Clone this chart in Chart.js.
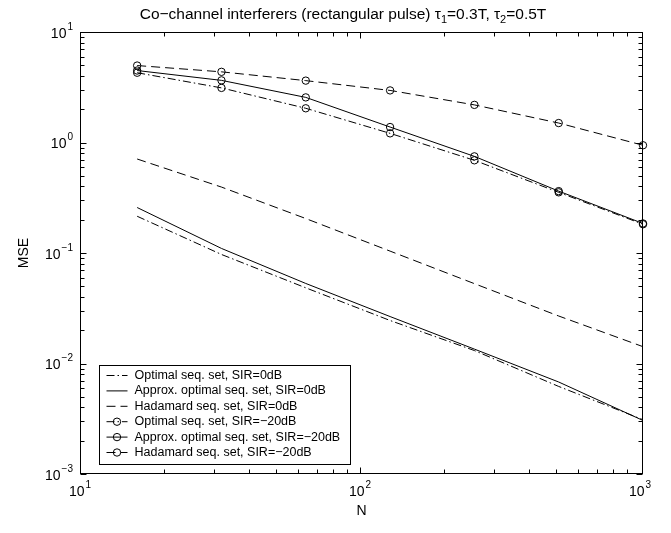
<!DOCTYPE html>
<html>
<head>
<meta charset="utf-8">
<script src="https://cdn.jsdelivr.net/npm/chart.js@4.4.0/dist/chart.umd.min.js"></script>
<style>
    html, body { margin: 0; padding: 0; background: #fff; }
    #wrap { width: 671px; height: 533px; }
</style>
</head>
<body>
<div id="wrap"><canvas id="mseChart" width="671" height="533"></canvas></div>
<script>
// N values (x axis)
const nValues = [16, 32, 64, 128, 256, 512, 1024];

// MSE, SIR = 0dB
const optimal0dB  = [0.215, 0.097, 0.0484, 0.0245, 0.0131, 0.0062, 0.0031];
const approx0dB   = [0.258, 0.110, 0.053, 0.0266, 0.0135, 0.0068, 0.00305];
const hadamard0dB = [0.709, 0.395, 0.205, 0.104, 0.0528, 0.0269, 0.0142];

// MSE, SIR = -20dB
const optimal20dB  = [4.28, 3.12, 2.04, 1.21, 0.690, 0.354, 0.182];
const approx20dB   = [4.48, 3.65, 2.56, 1.38, 0.749, 0.363, 0.185];
const hadamard20dB = [4.97, 4.36, 3.63, 2.96, 2.19, 1.50, 0.944];

// tick labels (base 10, exponent)
const xTickValues = [10, 100, 1000];
const xTickExps = ['1', '2', '3'];
const yTickValues = [10, 1, 0.1, 0.01, 0.001];
const yTickExps = ['1', '0', '\u22121', '\u22122', '\u22123'];

const FONT = '"Liberation Sans", Arial, Helvetica, sans-serif';
const DASH = [9, 5];
const DASHDOT = [8, 3, 1.5, 3];

function toPoints(vals) {
    return nValues.map((n, i) => ({x: n, y: vals[i]}));
}

function makeSet(label, vals, dash, marker) {
    return {
        label: label,
        data: toPoints(vals),
        borderColor: '#000',
        borderWidth: 1,
        borderDash: dash,
        pointRadius: marker ? 3.7 : 0,
        pointStyle: 'circle',
        pointBorderColor: '#000',
        pointBackgroundColor: 'rgba(0,0,0,0)',
        pointBorderWidth: 1,
        tension: 0,
        fill: false,
        clip: false
    };
}

// 10 + 上標
function drawPower(ctx, exp, x, y, align) {
    ctx.font = '14px ' + FONT;
    const wb = ctx.measureText('10').width;
    ctx.font = '10px ' + FONT;
    const ws = ctx.measureText(exp).width;
    const total = wb + ws + 1;
    let sx = align === 'right' ? x - total : x - total / 2;
    ctx.textAlign = 'left';
    ctx.textBaseline = 'middle';
    ctx.font = '14px ' + FONT;
    ctx.fillText('10', sx, y);
    ctx.font = '10px ' + FONT;
    ctx.fillText(exp, sx + wb + 1, y - 7);
}

// MATLAB 風格框線、刻度、文字與圖例
const matlabFrame = {
    id: 'matlabFrame',
    afterDraw(chart) {
        const ctx = chart.ctx;
        const a = chart.chartArea;
        const xs = chart.scales.x;
        const ys = chart.scales.y;
        const L = Math.round(a.left) + 0.5, R = Math.round(a.right) - 0.5;
        const T = Math.round(a.top) + 0.5, B = Math.round(a.bottom) - 0.5;
        ctx.save();
        ctx.strokeStyle = '#000';
        ctx.fillStyle = '#000';
        ctx.lineWidth = 1;
        ctx.setLineDash([]);
        ctx.strokeRect(L, T, R - L, B - T);

        // ticks (inside)
        ctx.beginPath();
        for (let d = 10; d < 1000; d *= 10) {
            for (let k = 1; k < 10; k++) {
                const px = Math.round(xs.getPixelForValue(k * d)) + 0.5;
                const len = k === 1 ? 6 : 4;
                ctx.moveTo(px, B); ctx.lineTo(px, B - len);
                ctx.moveTo(px, T); ctx.lineTo(px, T + len);
            }
        }
        for (let d = 0.001; d < 9; d *= 10) {
            for (let k = 1; k < 10; k++) {
                const py = Math.round(ys.getPixelForValue(k * d)) + 0.5;
                const len = k === 1 ? 6 : 4;
                ctx.moveTo(L, py); ctx.lineTo(L + len, py);
                ctx.moveTo(R, py); ctx.lineTo(R - len, py);
            }
        }
        ctx.stroke();

        // tick labels
        xTickValues.forEach((v, i) => {
            drawPower(ctx, xTickExps[i], xs.getPixelForValue(v), a.bottom + 18, 'center');
        });
        yTickValues.forEach((v, i) => {
            drawPower(ctx, yTickExps[i], a.left - 7, ys.getPixelForValue(v) + 2, 'right');
        });

        // axis titles
        ctx.font = '14px ' + FONT;
        ctx.textAlign = 'center';
        ctx.textBaseline = 'middle';
        ctx.fillText('N', (a.left + a.right) / 2, a.bottom + 37);
        ctx.save();
        ctx.translate(24, (a.top + a.bottom) / 2);
        ctx.rotate(-Math.PI / 2);
        ctx.fillText('MSE', 0, 0);
        ctx.restore();

        // title with subscripts
        const parts = [
            ['Co\u2212channel interferers (rectangular pulse) \u03c4', 0],
            ['1', 1],
            ['=0.3T, \u03c4', 0],
            ['2', 1],
            ['=0.5T', 0]
        ];
        let tw = 0;
        parts.forEach(p => {
            ctx.font = (p[1] ? '11px ' : '15.5px ') + FONT;
            tw += ctx.measureText(p[0]).width;
        });
        let tx = 343 - tw / 2;
        ctx.textAlign = 'left';
        parts.forEach(p => {
            ctx.font = (p[1] ? '11px ' : '15.5px ') + FONT;
            ctx.fillText(p[0], tx, p[1] ? 20 : 15);
            tx += ctx.measureText(p[0]).width;
        });

        // legend
        const lx = 99.5, ly = 365.5, lw = 251, lh = 99;
        ctx.fillStyle = '#fff';
        ctx.fillRect(lx, ly, lw, lh);
        ctx.strokeRect(lx, ly, lw, lh);
        ctx.font = '12.5px ' + FONT;
        chart.data.datasets.forEach((ds, i) => {
            const cy = ly + 10 + i * 15.4;
            ctx.strokeStyle = '#000';
            ctx.setLineDash(ds.borderDash || []);
            ctx.beginPath();
            ctx.moveTo(lx + 7, cy);
            ctx.lineTo(lx + 28, cy);
            ctx.stroke();
            ctx.setLineDash([]);
            if (ds.pointRadius > 0) {
                ctx.beginPath();
                ctx.arc(lx + 17.5, cy, 3.7, 0, Math.PI * 2);
                ctx.stroke();
            }
            ctx.fillStyle = '#000';
            ctx.textBaseline = 'middle';
            ctx.fillText(ds.label, lx + 35, cy);
        });
        ctx.restore();
    }
};

const chartData = {
    datasets: [
        makeSet('Optimal seq. set, SIR=0dB', optimal0dB, DASHDOT, false),
        makeSet('Approx. optimal seq. set, SIR=0dB', approx0dB, [], false),
        makeSet('Hadamard seq. set, SIR=0dB', hadamard0dB, DASH, false),
        makeSet('Optimal seq. set, SIR=\u221220dB', optimal20dB, DASHDOT, true),
        makeSet('Approx. optimal seq. set, SIR=\u221220dB', approx20dB, [], true),
        makeSet('Hadamard seq. set, SIR=\u221220dB', hadamard20dB, DASH, true)
    ]
};

const chartOptions = {
    responsive: false,
    devicePixelRatio: 1,
    animation: false,
    layout: {
        padding: {left: 72, right: 28, top: 32, bottom: 51}
    },
    plugins: {
        legend: {display: false},
        title: {display: false},
        tooltip: {enabled: false}
    },
    scales: {
        x: {
            type: 'logarithmic',
            min: 10,
            max: 1024,
            ticks: {display: false},
            grid: {display: false},
            border: {display: false}
        },
        y: {
            type: 'logarithmic',
            min: 0.001,
            max: 10,
            ticks: {display: false},
            grid: {display: false},
            border: {display: false}
        }
    }
};

const mseChart = new Chart(document.getElementById('mseChart'), {
    type: 'line',
    data: chartData,
    options: chartOptions,
    plugins: [matlabFrame]
});
</script>
</body>
</html>
